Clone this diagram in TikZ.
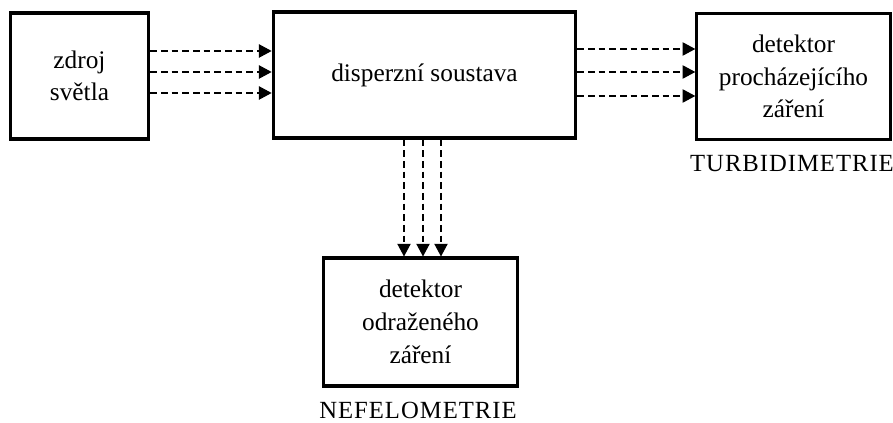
\documentclass[tikz,border=0pt]{standalone}
\usepackage{fontspec}
\setmainfont{Liberation Serif}
\usepackage{tikz}
\usetikzlibrary{arrows.meta}

\tikzset{
  blok/.style={draw, line width=2.3pt, align=center, inner sep=0pt,
    font=\fontsize{19}{24.5}\selectfont},
  paprsek/.style={dashed, line width=0.8pt, dash pattern=on 5pt off 3pt,
    -{Triangle[length=9.5pt,width=10pt]}},
  popis/.style={inner sep=0pt, font=\fontsize{18.5}{22}\selectfont\addfontfeature{LetterSpace=4}}
}

\begin{document}
\begin{tikzpicture}[x=0.75pt,y=0.75pt,yscale=-1,xscale=1]
\path[use as bounding box] (0,0) rectangle (893,423);

%Boxes
\node[blok, minimum width=104pt, minimum height=94.5pt] (zdroj) at (79.5,76) {zdroj\\světla};
\node[blok, minimum width=227pt, minimum height=94.5pt] (disp) at (424.5,75) {disperzní soustava};
\node[blok, minimum width=145pt, minimum height=95pt] (prochaz) at (793.5,76.5) {detektor\\procházejícího\\záření};
\node[blok, minimum width=146pt, minimum height=96pt] (odraz) at (420.5,322) {detektor\\odraženého\\záření};

% Text Node
\node[popis] (turb) at (792,164) {TURBIDIMETRIE};
% Text Node
\node[popis] (nefel) at (418,410) {NEFELOMETRIE};

%Straight Lines
\draw[paprsek] (zdroj.east |- 0,51) -- (disp.west |- 0,51);
\draw[paprsek] (zdroj.east |- 0,72) -- (disp.west |- 0,72);
\draw[paprsek] (zdroj.east |- 0,93) -- (disp.west |- 0,93);
%Straight Lines
\draw[paprsek] (disp.east |- 0,49) -- (prochaz.west |- 0,49);
\draw[paprsek] (disp.east |- 0,72) -- (prochaz.west |- 0,72);
\draw[paprsek] (disp.east |- 0,96) -- (prochaz.west |- 0,96);
%Straight Lines
\draw[paprsek] (disp.south -| 404,0) -- (odraz.north -| 404,0);
\draw[paprsek] (disp.south -| 423,0) -- (odraz.north -| 423,0);
\draw[paprsek] (disp.south -| 441,0) -- (odraz.north -| 441,0);

\end{tikzpicture}
\end{document}
